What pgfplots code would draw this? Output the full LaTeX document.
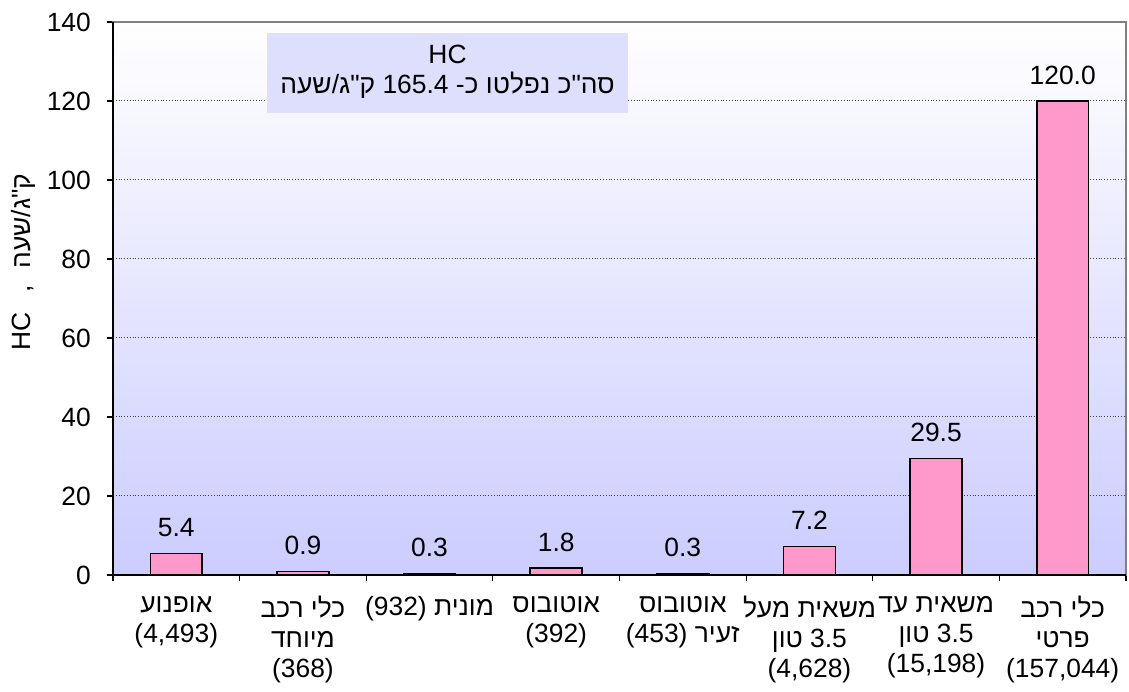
\documentclass[border=0pt]{standalone}
\usepackage{pgfplots}
\pgfplotsset{compat=1.18}
\usepackage{fontspec}
\setmainfont{Liberation Sans}
\newfontfamily\hebfont[Script=Hebrew]{Liberation Sans}
\TeXXeTstate=1
\definecolor{barpink}{RGB}{255,153,204}
\definecolor{bgblue}{RGB}{204,204,255}
\definecolor{boxblue}{RGB}{222,222,253}
\newcommand{\cf}{\fontsize{13.2}{15}\selectfont}
\begin{document}
\cf
\begin{tikzpicture}
\path (0,0) rectangle (564.5pt,342.5pt);
\begin{axis}[
 at={(56.5pt,55pt)}, anchor=south west,
 scale only axis, width=506.5pt, height=276.5pt,
 xmin=-0.5, xmax=7.5, ymin=0, ymax=140,
 clip=false,
 ytick={0,20,...,140},
 ymajorgrids, grid style={densely dotted, black!75, line width=0.5pt},
 axis background/.style={top color=white, bottom color=bgblue},
 axis line style={draw=gray, line width=0.8pt},
 tick align=outside, major tick length=3pt, minor tick length=3pt,
 tick style={black, line width=0.6pt},
 xtick pos=bottom, ytick pos=left,
 xtick={0,...,7},
 major x tick style={draw=none},
 minor xtick={-0.5,0.5,...,7.5},
 xticklabels={
  {{\hebfont\beginR אופנוע\endR}\\(4,493)},
  {{\hebfont\beginR כלי רכב\endR}\\{\hebfont\beginR מיוחד\endR}\\(368)},
  {{\hebfont\beginR מונית \beginL(932)\endL\endR}},
  {{\hebfont\beginR אוטובוס\endR}\\(392)},
  {{\hebfont\beginR אוטובוס\endR}\\{\hebfont\beginR זעיר \beginL(453)\endL\endR}},
  {{\hebfont\beginR משאית מעל\endR}\\{\hebfont\beginR\beginL3.5\endL{} טון\endR}\\(4,628)},
  {{\hebfont\beginR משאית עד\endR}\\{\hebfont\beginR\beginL3.5\endL{} טון\endR}\\(15,198)},
  {{\hebfont\beginR כלי רכב\endR}\\{\hebfont\beginR פרטי\endR}\\(157,044)}
 },
 x tick label style={align=center, font=\cf, yshift=-3pt},
 y tick label style={font=\cf, xshift=-3.5pt},
 /pgf/number format/assume math mode=true,
 ybar, bar width=0.41,
 nodes near coords,
 every node near coord/.append style={font=\cf, yshift=3.5pt, black,
   /pgf/number format/fixed, /pgf/number format/fixed zerofill, /pgf/number format/precision=1},
]
\addplot[draw=black, fill=barpink, line width=0.8pt] coordinates {
 (0,5.4) (1,0.9) (2,0.3) (3,1.8) (4,0.3) (5,7.2) (6,29.5) (7,120.0)
};
\draw[black, line width=0.8pt] (rel axis cs:0,1) -- (rel axis cs:0,0) -- (rel axis cs:1,0);
\fill[boxblue] (axis cs:0.716,117) rectangle (axis cs:3.568,137.2);
\node[align=center, font=\cf] at (axis cs:2.142,127.3) {HC\\{\hebfont\beginR סה"כ נפלטו כ- \beginL165.4\endL{} ק"ג/שעה\endR}};
\node[rotate=90, font=\cf] at ([xshift=-45pt]rel axis cs:0,0.566) {HC\hspace{10pt},\hspace{8pt}{\hebfont\beginR ק"ג/שעה\endR}};
\end{axis}
\end{tikzpicture}
\end{document}
